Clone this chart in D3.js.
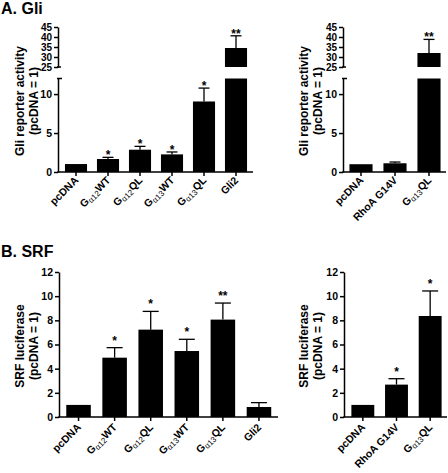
<!DOCTYPE html>
<html><head><meta charset="utf-8">
<script src="https://cdn.jsdelivr.net/npm/d3@7"></script>
<style>
body{margin:0;background:#fff}
svg text{font-family:"Liberation Sans",Arial,Helvetica,sans-serif;font-weight:bold;fill:#000}
</style>
</head><body>
<svg id="chart" width="448" height="473"></svg>
<script>
// ---------- data ----------
const gliLeftCats  = ["pcDNA","Gα12WT","Gα12QL","Gα13WT","Gα13QL","Gli2"];
const gliLeftVals  = [1.02, 1.67, 2.86, 2.26, 9.05, 34.5];
const gliLeftErr   = [1.02, 1.88, 3.29, 2.57, 10.77, 40.6];
const gliLeftSig   = ["", "*", "*", "*", "*", "**"];

const gliRightCats = ["pcDNA","RhoA G14V","Gα13QL"];
const gliRightVals = [1.0, 1.12, 32.0];
const gliRightErr  = [1.0, 1.28, 38.8];
const gliRightSig  = ["", "", "**"];

const srfLeftCats  = ["pcDNA","Gα12WT","Gα12QL","Gα13WT","Gα13QL","Gli2"];
const srfLeftVals  = [1.0, 4.91, 7.23, 5.46, 8.06, 0.83];
const srfLeftErr   = [1.0, 5.74, 8.74, 6.43, 9.43, 1.19];
const srfLeftSig   = ["", "*", "*", "*", "**", ""];

const srfRightCats = ["pcDNA","RhoA G14V","Gα13QL"];
const srfRightVals = [1.0, 2.68, 8.36];
const srfRightErr  = [1.0, 3.17, 10.43];
const srfRightSig  = ["", "*", "*"];

const gliLowerTicks = [0, 5, 10];
const gliUpperTicks = [25, 30, 35, 40, 45];
const srfTicks      = [0, 2, 4, 6, 8, 10, 12];

const gliTitle = ["Gli reporter activity", "(pcDNA = 1)"];
const srfTitle = ["SRF luciferase", "(pcDNA = 1)"];
const panelTitles = ["A. Gli", "B. SRF"];

// ---------- drawing ----------
const svg = d3.select("#chart");

function catLabel(t, name) {
  const m = name.match(/^G(α\d+)(.*)$/);
  if (m) {
    t.append("tspan").text("G");
    t.append("tspan").attr("font-size", "8px").attr("font-weight", "normal").attr("dy", 2).text(m[1]);
    t.append("tspan").attr("dy", -2).text(m[2]);
  } else t.text(name);
}

function styleAxis(g, fs) {
  g.selectAll("path.domain").attr("stroke", "#000").attr("stroke-width", 1.5);
  g.selectAll(".tick line").attr("stroke", "#000").attr("stroke-width", 1.5);
  g.selectAll(".tick text").attr("font-size", fs).attr("font-family", null).attr("fill", "#000");
  g.attr("font-family", null).attr("font-size", null);
}

function panel(o) {
  const g = svg.append("g");
  const x = d3.scaleBand().domain(o.cats).range(o.xRange)
    .paddingInner(o.pad).paddingOuter(o.pad / 2);
  const yL = d3.scaleLinear().domain(o.lowDomain).range(o.lowRange);
  const yU = o.upDomain ? d3.scaleLinear().domain(o.upDomain).range(o.upRange) : null;
  const base = o.lowRange[0];
  const lowMax = o.lowDomain[1];

  // bars
  o.vals.forEach((v, i) => {
    const bx = x(o.cats[i]);
    const top = yL(Math.min(v, lowMax));
    g.append("rect").attr("x", bx).attr("y", top).attr("width", x.bandwidth())
      .attr("height", base - top).attr("fill", "#000");
    if (yU && v > o.upDomain[0]) {
      g.append("rect").attr("x", bx).attr("y", yU(v)).attr("width", x.bandwidth())
        .attr("height", yU(o.upDomain[0]) - yU(v)).attr("fill", "#000");
    }
    // error bar
    const sc = (yU && v > o.upDomain[0]) ? yU : yL;
    const cx = bx + x.bandwidth() / 2;
    const e = o.errs[i];
    if (e > v) {
      g.append("line").attr("x1", cx).attr("x2", cx).attr("y1", sc(v)).attr("y2", sc(e))
        .attr("stroke", "#000").attr("stroke-width", 1.3);
      g.append("line").attr("x1", cx - o.cap / 2).attr("x2", cx + o.cap / 2)
        .attr("y1", sc(e)).attr("y2", sc(e)).attr("stroke", "#000").attr("stroke-width", 1.3);
    }
    if (o.sigs[i]) {
      g.append("text").attr("x", cx).attr("y", sc(e) + o.starOff)
        .attr("text-anchor", "middle").attr("font-size", "12px").text(o.sigs[i]);
    }
  });

  // y axes
  const ax = g.append("g").attr("transform", `translate(${o.axisX},0)`)
    .call(d3.axisLeft(yL).tickValues(o.lowTicks).tickSize(4).tickSizeOuter(0).tickPadding(2));
  styleAxis(ax, "10.5px");
  if (yU) {
    const au = g.append("g").attr("transform", `translate(${o.axisX},0)`)
      .call(d3.axisLeft(yU).tickValues(o.upTicks).tickSize(4).tickSizeOuter(0).tickPadding(2));
    styleAxis(au, "10px");
    // break caps
    g.append("line").attr("x1", o.axisX - 1).attr("x2", o.axisX + 4)
      .attr("y1", yL(lowMax)).attr("y2", yL(lowMax)).attr("stroke", "#000").attr("stroke-width", 1.5);
    g.append("line").attr("x1", o.axisX - 1).attr("x2", o.axisX + 3)
      .attr("y1", yU(o.upDomain[0])).attr("y2", yU(o.upDomain[0])).attr("stroke", "#000").attr("stroke-width", 1.5);
  }

  // x axis
  const xa = g.append("g").attr("transform", `translate(0,${base})`)
    .call(d3.axisBottom(x).tickSize(4).tickSizeOuter(0).tickFormat(""));
  xa.select("path.domain").remove();
  xa.selectAll(".tick line").attr("stroke", "#000").attr("stroke-width", 1.5);
  g.append("line").attr("x1", o.axisX - 0.75).attr("x2", o.axisEnd).attr("y1", base).attr("y2", base)
    .attr("stroke", "#000").attr("stroke-width", 1.5);

  o.cats.forEach(c => {
    const cx = x(c) + x.bandwidth() / 2;
    const t = g.append("text").attr("text-anchor", "end").attr("font-size", "10.5px")
      .attr("transform", `translate(${cx + 3},${base + o.labOff}) rotate(-45)`);
    catLabel(t, c);
  });

  // y title
  const tt = g.append("text").attr("text-anchor", "middle").attr("font-size", "12px")
    .attr("transform", `translate(${o.titleX},${o.titleY}) rotate(-90)`);
  tt.append("tspan").attr("x", 0).attr("y", 0).text(o.title[0]);
  tt.append("tspan").attr("x", 0).attr("y", 14).text(o.title[1]);
}

// Panel titles
svg.append("text").attr("x", 1).attr("y", 13.5).attr("font-size", "16px").text(panelTitles[0]);
svg.append("text").attr("x", 1).attr("y", 257).attr("font-size", "16px").text(panelTitles[1]);

panel({cats: gliLeftCats, vals: gliLeftVals, errs: gliLeftErr, sigs: gliLeftSig,
  xRange: [60, 252], pad: 0.31, axisX: 58, axisEnd: 253,
  lowDomain: [0, 12], lowRange: [172, 78.5], upDomain: [25, 45], upRange: [67, 27],
  lowTicks: gliLowerTicks, upTicks: gliUpperTicks, cap: 11, starOff: 1.8, labOff: 9,
  title: gliTitle, titleX: 23.5, titleY: 101});

panel({cats: gliRightCats, vals: gliRightVals, errs: gliRightErr, sigs: gliRightSig,
  xRange: [344, 446], pad: 0.32, axisX: 343, axisEnd: 446,
  lowDomain: [0, 12], lowRange: [172, 78.5], upDomain: [25, 45], upRange: [67, 27],
  lowTicks: gliLowerTicks, upTicks: gliUpperTicks, cap: 11, starOff: 1.8, labOff: 9,
  title: gliTitle, titleX: 307.5, titleY: 101});

panel({cats: srfLeftCats, vals: srfLeftVals, errs: srfLeftErr, sigs: srfLeftSig,
  xRange: [60.5, 277], pad: 0.32, axisX: 59, axisEnd: 278,
  lowDomain: [0, 12], lowRange: [417, 272],
  lowTicks: srfTicks, cap: 16, starOff: -3, labOff: 11,
  title: srfTitle, titleX: 23.5, titleY: 346});

panel({cats: srfRightCats, vals: srfRightVals, errs: srfRightErr, sigs: srfRightSig,
  xRange: [346, 447], pad: 0.32, axisX: 344, axisEnd: 447,
  lowDomain: [0, 12], lowRange: [417, 272],
  lowTicks: srfTicks, cap: 16, starOff: -3, labOff: 11,
  title: srfTitle, titleX: 307.5, titleY: 346});
</script>
</body></html>
